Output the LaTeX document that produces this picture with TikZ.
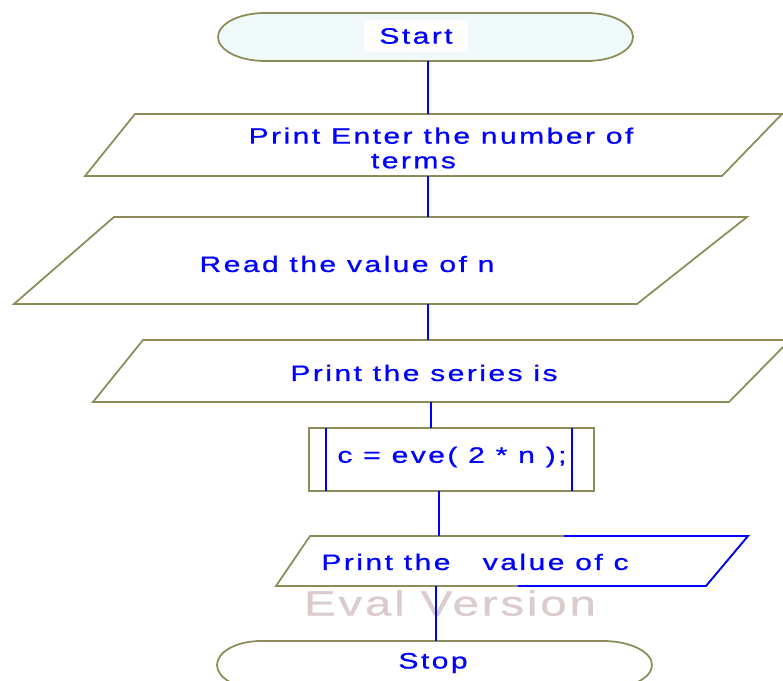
\documentclass[tikz,border=0pt]{standalone}
\usepackage{fontspec}
\newfontfamily\chartfont[FakeStretch=1.35,LetterSpace=11,FakeBold=0.8]{Liberation Sans}
\newfontfamily\evalfont[FakeStretch=1.35,LetterSpace=8,FakeBold=0.8]{Liberation Sans}
\definecolor{edgeolive}{RGB}{140,140,90}
\definecolor{flowblue}{RGB}{0,0,255}
\definecolor{startfill}{RGB}{240,250,250}
\definecolor{evalgray}{RGB}{218,204,204}

\tikzset{
  box/.style={draw=edgeolive, line width=1.5pt},
  lbl/.style={text=flowblue, inner sep=0pt, font=\chartfont\fontsize{19}{21}\selectfont},
  link/.style={draw=flowblue, line width=2pt}
}

\begin{document}
\begin{tikzpicture}[x=0.03cm,y=-0.03cm]
\path[use as bounding box] (0,0) rectangle (783,681);
\clip (0,0) rectangle (783,681);

% start
\draw[box, fill=startfill] (265,13) -- (587,13) arc (-90:90:46 and 24) -- (265,61) arc (90:270:47 and 24) -- cycle;
\node[lbl, fill=white, minimum width=3.1cm, minimum height=0.96cm] (start) at (416,36) {Start};
\coordinate (start-b) at (428,61);

% print prompt
\draw[box] (135,114) -- (782,114) -- (722,176) -- (85,176) -- cycle;
\node[lbl, align=center] (prompt) at (441,148) {Print Enter the number of\\terms\hspace*{47pt}};
\coordinate (prompt-t) at (428,114);
\coordinate (prompt-b) at (428,176);

% read n
\draw[box] (114,217) -- (747,217) -- (637,304) -- (14,304) -- cycle;
\node[lbl] (readn) at (347,264) {Read the value of n};
\coordinate (readn-t) at (428,217);
\coordinate (readn-b) at (428,304);

% print series
\draw[box] (143,340) -- (790,340) -- (729,402) -- (93,402) -- cycle;
\node[lbl] (series) at (424,373) {Print the series is};
\coordinate (series-t) at (428,340);
\coordinate (series-b) at (431,402);

% predefined process
\draw[box] (309,428) rectangle (594,491);
\draw[link] (326,428) -- (326,491);
\draw[link] (572,428) -- (572,491);
\node[lbl] (call) at (452,457) {c = eve( 2 * n );};
\coordinate (call-t) at (431,428);
\coordinate (call-b) at (439,491);

% print c
\draw[box] (310,536) -- (748,536) -- (706,586) -- (276,586) -- cycle;
\draw[link, line width=1.5pt] (564,536) -- (748,536) -- (706,586) -- (518,586);
\node[lbl] (printc) at (475,562) {Print the\ \ \ value of c};
\coordinate (printc-t) at (439,536);
\coordinate (printc-b) at (436,586);

\node[text=evalgray, font=\evalfont\fontsize{30}{34}\selectfont] (eval) at (450,603) {Eval Version};

% stop
\draw[box, fill=white] (261,641) -- (603,641) arc (-90:90:49 and 24) -- (261,689) arc (90:270:44 and 24) -- cycle;
\node[lbl] (stop) at (433,663) {Stop};
\coordinate (stop-t) at (436,641);

\draw[link] (start-b) -- (prompt-t);
\draw[link] (prompt-b) -- (readn-t);
\draw[link] (readn-b) -- (series-t);
\draw[link] (series-b) -- (call-t);
\draw[link] (call-b) -- (printc-t);
\draw[link] (printc-b) -- (stop-t);

\end{tikzpicture}
\end{document}
